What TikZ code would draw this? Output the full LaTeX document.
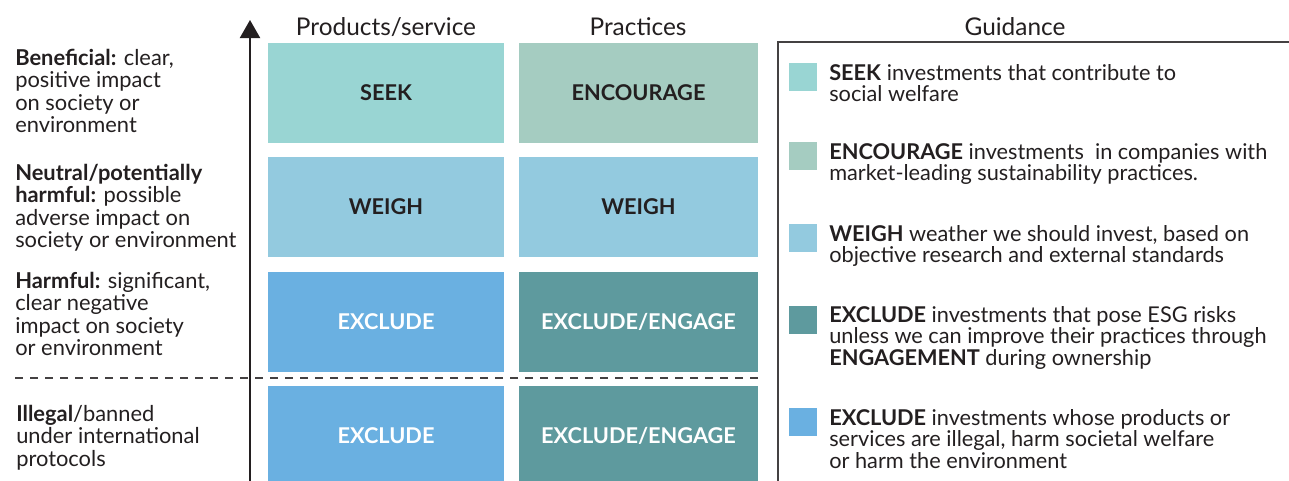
\documentclass[tikz,border=0pt]{standalone}
\usepackage{fontspec}
\setmainfont{Lato}
\usetikzlibrary{arrows.meta}
\definecolor{ink}{HTML}{231F20}
\definecolor{seekc}{HTML}{99D5D3}
\definecolor{encc}{HTML}{A5CCC1}
\definecolor{weighc}{HTML}{93CADF}
\definecolor{exclc}{HTML}{6AB0E1}
\definecolor{engc}{HTML}{5E9A9E}
\tikzset{
  cell/.style={inner sep=0pt,minimum height=75pt,font=\fontsize{16.3}{18}\selectfont\bfseries},
  head/.style={anchor=base,inner sep=0pt,text=ink,font=\fontsize{18.3}{20}\selectfont},
  side/.style={anchor=north west,inner sep=0pt,align=left,text=ink,font=\fontsize{16.4}{16.7}\selectfont},
  legtext/.style={anchor=north west,inner sep=0pt,align=left,text=ink,font=\fontsize{16.3}{16.2}\selectfont},
  swatch/.style={inner sep=0pt,minimum size=21pt,anchor=north west}
}
\begin{document}
\begin{tikzpicture}[x=0.75pt,y=-0.75pt,>={Triangle[width=15pt,length=13.5pt]}]
\useasboundingbox (0,0) rectangle (1289,480);
% column heads
\node[head] (hprod) at (386,35) {Products/service};
\node[head] (hprac) at (638,35) {Practices};
\node[head] (hguide) at (1015,35) {Guidance};
% matrix cells
\node[cell,fill=seekc,text=ink,minimum width=177pt] (seek) at (386,93) {SEEK};
\node[cell,fill=encc,text=ink,minimum width=179.25pt] (enc) at (638.5,93) {ENCOURAGE};
\node[cell,fill=weighc,text=ink,minimum width=177pt] (weighA) at (386,207) {WEIGH};
\node[cell,fill=weighc,text=ink,minimum width=179.25pt] (weighB) at (638.5,207) {WEIGH};
\node[cell,fill=exclc,text=white,minimum width=177pt] (exclA) at (386,322) {EXCLUDE};
\node[cell,fill=engc,text=white,minimum width=179.25pt] (engA) at (638.5,322) {EXCLUDE/ENGAGE};
\node[cell,fill=exclc,text=white,minimum width=177pt] (exclB) at (386,436) {EXCLUDE};
\node[cell,fill=engc,text=white,minimum width=179.25pt] (engB) at (638.5,436) {EXCLUDE/ENGAGE};
% axis
\coordinate (axbot) at (250,482);
\coordinate (axtop) at (250,20);
\draw[->,line width=1.5pt,ink] (axbot) -- (axtop);
% legal line
\coordinate (dl) at (15,378);
\coordinate (dr) at (758,378);
\draw[line width=1.5pt,ink!85,dash pattern=on 6pt off 5.25pt] (dl) -- (dr);
% impact levels
\node[side] (benef) at (15,49) {\textbf{Beneficial:} clear,\\positive impact\\on society or\\environment};
\node[side] (neutr) at (15,164) {\textbf{Neutral/potentially}\\\textbf{harmful:} possible\\adverse impact on\\society or environment};
\node[side] (harm) at (15,272) {\textbf{Harmful:} significant,\\clear negative\\impact on society\\or environment};
\node[side] (illeg) at (16,405) {\textbf{Illegal}/banned\\under international\\protocols};
% guidance frame
\coordinate (gbl) at (778,482);
\coordinate (gtl) at (778,42);
\coordinate (gtr) at (1291,42);
\draw[line width=1.5pt,ink!85] (gbl) -- (gtl) -- (gtr);
\foreach \n/\c/\y in {1/seekc/63,2/encc/142,3/weighc/224,4/engc/306,5/exclc/408} {
    \node[swatch,fill=\c] (sq\n) at (789,\y) {};
}
\node[legtext] (g1) at (829,64) {\textbf{SEEK} investments that contribute to\\social welfare};
\node[legtext] (g2) at (829,143) {\textbf{ENCOURAGE} investments\ \ in companies with\\market-leading sustainability practices.};
\node[legtext] (g3) at (829,225) {\textbf{WEIGH} weather we should invest, based on\\objective research and external standards};
\node[legtext] (g4) at (829,306) {\textbf{EXCLUDE} investments that pose ESG risks\\unless we can improve their practices through\\\textbf{ENGAGEMENT} during ownership};
\node[legtext] (g5) at (829,409) {\textbf{EXCLUDE} investments whose products or\\services are illegal, harm societal welfare\\or harm the environment};
\end{tikzpicture}
\end{document}
